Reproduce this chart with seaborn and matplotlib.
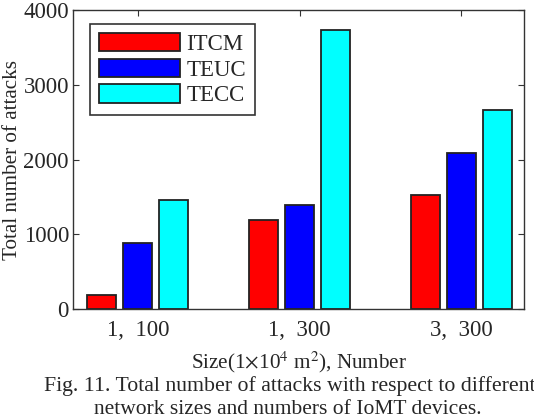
import seaborn as sns
import pandas as pd
import matplotlib
matplotlib.use("Agg")
import matplotlib.pyplot as plt

# values
groups = ['1,  100', '1,  300', '3,  300']
methods = ['ITCM', 'TEUC', 'TECC']
itcm = [183, 1189, 1532]
teuc = [886, 1394, 2094]
tecc = [1457, 3733, 2668]
colors = ['#ff0000', '#0000ff', '#00ffff']

df = pd.DataFrame({'Group': groups * 3,
                   'Method': [m for m in methods for _ in groups],
                   'Attacks': itcm + teuc + tecc})

sns.set_style("white")
plt.rcParams['font.family'] = ['Liberation Serif', 'DejaVu Serif']
plt.rcParams['mathtext.fontset'] = 'stix'
fs = 16.5
lfs = 15.2

fig = plt.figure(figsize=(5.34, 4.16), dpi=100)
ax = fig.add_axes([0.137, 0.257, 0.845, 0.719])

sns.barplot(data=df, x='Group', y='Attacks', hue='Method', palette=colors,
            width=0.667, gap=0.19, edgecolor='#222222', linewidth=1.3,
            saturation=1, ax=ax)

ax.set_xlim(-0.4, 2.39)
ax.set_ylim(0, 4000)
ax.set_yticks([0, 1000, 2000, 3000, 4000])
ax.tick_params(direction='in', length=4, width=0.8, color='#333333',
               labelsize=fs, top=True, right=True, bottom=True, left=True)
ax.tick_params(axis='x', pad=8)
ax.tick_params(axis='y', pad=3)
for s in ax.spines.values():
    s.set_color('#333333')
    s.set_linewidth(1.0)
ax.set_ylabel('Total number of attacks', fontsize=lfs, va='center')
ax.set_xlabel(r'Size(1$\times$10$^4$ m$^2$), Number', fontsize=lfs, labelpad=6)
ax.yaxis.set_label_coords(-0.135, 0.5)

leg = ax.legend(loc='upper left', bbox_to_anchor=(0.038, 0.953), fontsize=fs,
                handlelength=3.5, handleheight=0.85, handletextpad=0.3,
                labelspacing=0.15, borderpad=0.4, borderaxespad=0,
                fancybox=False, framealpha=1, edgecolor='#333333')
leg.get_frame().set_linewidth(1.2)

fig.text(0.082, 0.072, 'Fig. 11. Total number of attacks with respect to different',
         ha='left', va='center', fontsize=15.7)
fig.text(0.176, 0.016, 'network sizes and numbers of IoMT devices.',
         ha='left', va='center', fontsize=15.5)

fig.savefig('out.png', dpi=100)
